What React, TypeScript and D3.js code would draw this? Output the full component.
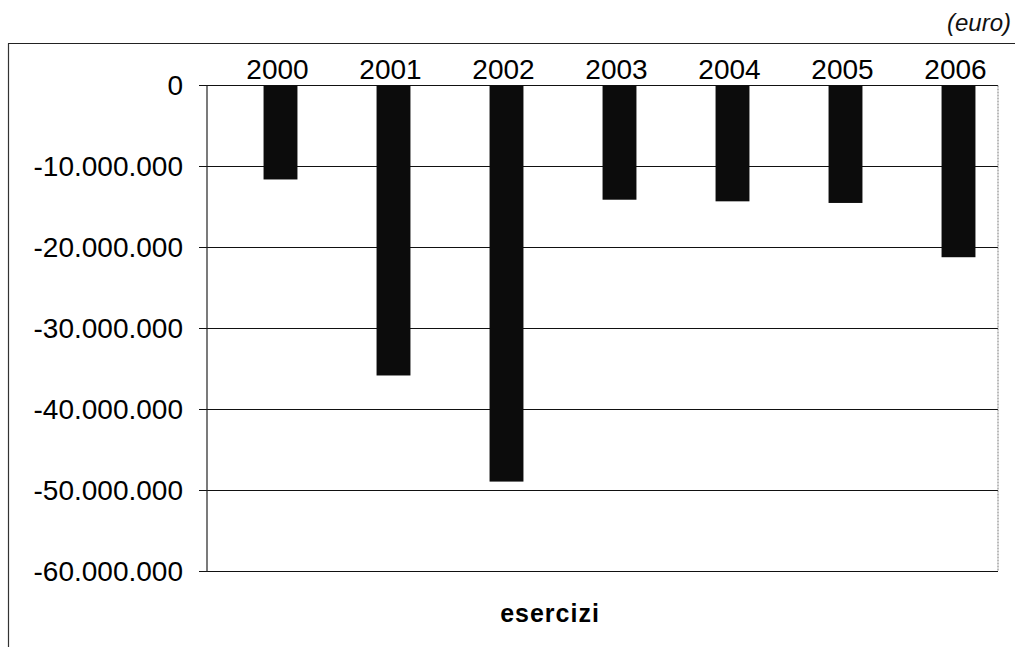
import React, { useEffect, useRef } from 'react';
import * as d3 from 'd3';

const years = ['2000', '2001', '2002', '2003', '2004', '2005', '2006'];
const values = [-11600000, -35800000, -48900000, -14100000, -14300000, -14500000, -21200000];
const yTicks = [0, -10000000, -20000000, -30000000, -40000000, -50000000, -60000000];

const width = 1015;
const height = 647;

const fmt = (v: number) => {
  const s = d3.format(',')(v);
  return s.replace(/,/g, '.').replace('−', '-');
};

const App: React.FC = () => {
  const svgRef = useRef<SVGSVGElement | null>(null);

  useEffect(() => {
    if (!svgRef.current) return;
    const svg = d3.select(svgRef.current);
    svg.selectAll('*').remove();

    const plot = { left: 207, right: 998, top: 85.5, bottom: 571.5 };
    const font = '"Liberation Sans", Arial, sans-serif';

    const y = d3.scaleLinear().domain([-60000000, 0]).range([plot.bottom, plot.top]);
    const x = d3.scaleBand<string>()
      .domain(years)
      .range([224, 1015])
      .paddingInner(0.7)
      .paddingOuter(0.35);

    // outer frame
    svg.append('line')
      .attr('x1', 8).attr('x2', width).attr('y1', 43.5).attr('y2', 43.5)
      .attr('stroke', '#222').attr('stroke-width', 1.2);
    svg.append('line')
      .attr('x1', 8.5).attr('x2', 8.5).attr('y1', 43.5).attr('y2', height)
      .attr('stroke', '#333').attr('stroke-width', 1.2);

    svg.append('text')
      .attr('x', 1011).attr('y', 31)
      .attr('text-anchor', 'end')
      .style('font-family', font)
      .style('font-style', 'italic')
      .style('font-size', '24px')
      .attr('fill', '#111')
      .text('(euro)');

    const g = svg.append('g');

    // gridlines
    g.selectAll('line.grid')
      .data(yTicks)
      .enter()
      .append('line')
      .attr('class', 'grid')
      .attr('x1', plot.left - 8)
      .attr('x2', plot.right)
      .attr('y1', d => y(d))
      .attr('y2', d => y(d))
      .attr('stroke', '#111')
      .attr('stroke-width', 1.1);

    // plot frame sides
    g.append('line')
      .attr('x1', plot.left).attr('x2', plot.left)
      .attr('y1', plot.top).attr('y2', plot.bottom)
      .attr('stroke', '#222').attr('stroke-width', 1.2);
    g.append('line')
      .attr('x1', plot.right).attr('x2', plot.right)
      .attr('y1', plot.top).attr('y2', plot.bottom)
      .attr('stroke', '#777').attr('stroke-width', 1).attr('stroke-dasharray', '2,1');

    // y labels
    g.selectAll('text.ylab')
      .data(yTicks)
      .enter()
      .append('text')
      .attr('class', 'ylab')
      .attr('x', 183)
      .attr('y', d => y(d))
      .attr('dy', '0.35em')
      .attr('text-anchor', 'end')
      .style('font-family', font)
      .style('font-size', '28px')
      .attr('fill', '#000')
      .text(d => fmt(d));

    // bars
    g.selectAll('rect.bar')
      .data(years.map((yr, i) => ({ yr, v: values[i] })))
      .enter()
      .append('rect')
      .attr('class', 'bar')
      .attr('x', d => x(d.yr) as number)
      .attr('width', x.bandwidth())
      .attr('y', y(0))
      .attr('height', d => y(d.v) - y(0))
      .attr('fill', '#0c0c0c');

    // year labels
    g.selectAll('text.xlab')
      .data(years)
      .enter()
      .append('text')
      .attr('class', 'xlab')
      .attr('x', d => (x(d) as number) + x.bandwidth() / 2 - 3)
      .attr('y', 79)
      .attr('text-anchor', 'middle')
      .style('font-family', font)
      .style('font-size', '28px')
      .attr('fill', '#000')
      .text(d => d);

    svg.append('text')
      .attr('x', 550).attr('y', 622)
      .attr('text-anchor', 'middle')
      .style('font-family', font)
      .style('font-weight', 'bold')
      .style('font-size', '25px')
      .style('letter-spacing', '1px')
      .attr('fill', '#000')
      .text('esercizi');
  }, []);

  return (
    <svg
      ref={svgRef}
      width={width}
      height={height}
      style={{ position: 'absolute', left: 0, top: 0, background: '#fff' }}
    ></svg>
  );
};

export default App;
